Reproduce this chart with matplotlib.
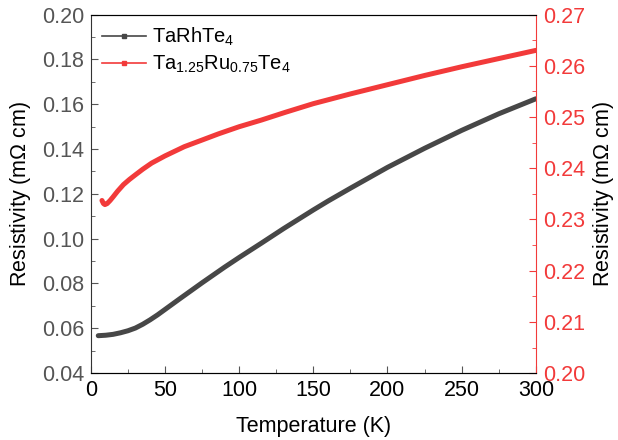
import numpy as np
import matplotlib
matplotlib.use("Agg")
import matplotlib.pyplot as plt
from matplotlib.lines import Line2D
from matplotlib.ticker import MultipleLocator, FormatStrFormatter

plt.rcParams['font.family'] = ['Liberation Sans', 'DejaVu Sans']
plt.rcParams['mathtext.fontset'] = 'custom'
plt.rcParams['mathtext.rm'] = 'Liberation Sans'
plt.rcParams['mathtext.it'] = 'Liberation Sans'

# TaRhTe4 (left axis)
T_rh = [5, 10, 15, 20, 25, 30, 35, 40, 45, 50, 60, 75, 90, 100, 115, 130, 150,
        160, 175, 200, 225, 250, 275, 300]
rho_rh = [0.0567, 0.0569, 0.0573, 0.0580, 0.0589, 0.0601, 0.0618, 0.0638,
          0.0660, 0.0684, 0.0732, 0.0803, 0.0872, 0.0916, 0.0980, 0.1045,
          0.1128, 0.1168, 0.1225, 0.1318, 0.1403, 0.1483, 0.1557, 0.1624]

# Ta1.25Ru0.75Te4 (right axis)
T_ru = [7.5, 8.5, 9.5, 11, 13, 15, 18, 22, 26, 30, 35, 41, 50, 63, 75, 86,
        100, 115, 131, 150, 175, 200, 225, 250, 275, 300]
rho_ru = [0.2337, 0.2331, 0.2329, 0.2331, 0.2337, 0.2344, 0.2355, 0.2368,
          0.2378, 0.2387, 0.2398, 0.2410, 0.2424, 0.2442, 0.2455, 0.2467,
          0.2481, 0.2494, 0.2509, 0.2526, 0.2545, 0.2563, 0.2581, 0.2598,
          0.2614, 0.2630]

c_black = '#474747'
c_red = '#f23a3a'
fs = 15.5

fig = plt.figure(figsize=(6.18, 4.4), dpi=100)
ax1 = fig.add_axes([0.147, 0.152, 0.720, 0.815])
ax2 = ax1.twinx()

ax1.plot(T_rh, rho_rh, color=c_black, lw=3.6, solid_capstyle='round')
ax2.plot(T_ru, rho_ru, color=c_red, lw=3.6, solid_capstyle='round')

ax1.set_xlim(0, 300)
ax1.set_ylim(0.04, 0.20)
ax2.set_ylim(0.20, 0.27)

ax1.xaxis.set_major_locator(MultipleLocator(50))
ax1.xaxis.set_minor_locator(MultipleLocator(25))
ax1.yaxis.set_major_locator(MultipleLocator(0.02))
ax1.yaxis.set_minor_locator(MultipleLocator(0.01))
ax2.yaxis.set_major_locator(MultipleLocator(0.01))
ax2.yaxis.set_minor_locator(MultipleLocator(0.005))
ax1.yaxis.set_major_formatter(FormatStrFormatter('%.2f'))
ax2.yaxis.set_major_formatter(FormatStrFormatter('%.2f'))

ax1.tick_params(which='both', direction='in', labelsize=fs, color='#555555', pad=5)
ax1.tick_params(which='major', length=5)
ax1.tick_params(which='minor', length=3)
ax1.tick_params(axis='y', labelcolor='#555555')
ax1.tick_params(axis='x', labelcolor='black')
ax2.tick_params(which='both', direction='in', labelsize=fs, color=c_red,
                labelcolor=c_red, pad=5)
ax2.tick_params(which='major', length=5)
ax2.tick_params(which='minor', length=3)

for sp in ['left', 'bottom', 'top']:
    ax1.spines[sp].set_color('#333333')
ax2.spines['right'].set_color(c_red)
ax1.spines['right'].set_visible(False)
ax2.spines['left'].set_visible(False)

ax1.set_xlabel('Temperature (K)', fontsize=fs, labelpad=11)
ax1.set_ylabel('Resistivity (m$\\Omega$ cm)', fontsize=fs, labelpad=6)
ax2.set_ylabel('Resistivity (m$\\Omega$ cm)', fontsize=fs, labelpad=4)

handles = [
    Line2D([], [], color=c_black, lw=1.2, marker='s', markersize=3),
    Line2D([], [], color=c_red, lw=1.2, marker='s', markersize=3),
]
labels = ['TaRhTe$_4$', 'Ta$_{1.25}$Ru$_{0.75}$Te$_4$']
ax1.legend(handles, labels, loc='upper left', frameon=False, fontsize=14.5,
           handlelength=2.2, borderaxespad=0.15, labelspacing=0.3,
           handletextpad=0.3)

fig.savefig('out.png', dpi=100)
